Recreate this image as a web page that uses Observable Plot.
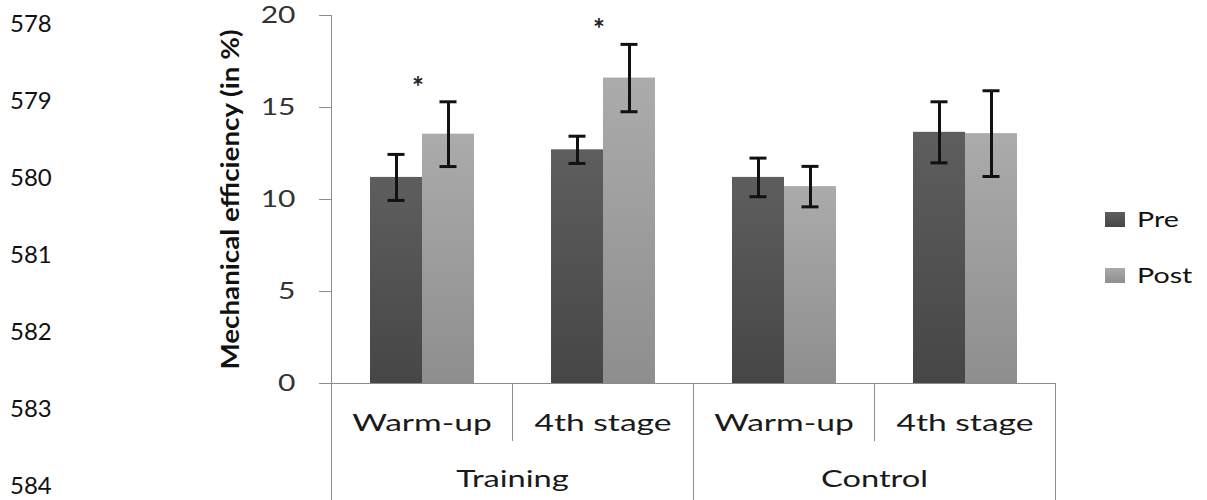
<!DOCTYPE html>
<html><head><meta charset="utf-8">
<script src="https://cdn.jsdelivr.net/npm/d3@7"></script>
<script src="https://cdn.jsdelivr.net/npm/@observablehq/plot@0.6"></script>
<style>
body{margin:0;background:#fff;}
#wrap{position:relative;width:1207px;height:500px;overflow:hidden;font-family:Lato,sans-serif;}
.ln{position:absolute;left:10px;font-size:24px;line-height:24px;color:#111;}
.lg{position:absolute;left:1105px;height:22px;display:flex;align-items:center;}
.lg .sw{width:20px;height:15px;margin-right:12px;}
.lg .tx{font-size:22px;line-height:22px;color:#111;transform:scaleX(1.3);transform-origin:left center;}
</style></head><body><div id="wrap"></div>
<script>
// ---- data ----
const groups = ["Training", "Training", "Control", "Control"];
const stages = ["Warm-up", "4th stage", "Warm-up", "4th stage"];
const phases = ["Pre", "Post"];
const preMean = [11.2, 12.7, 11.2, 13.65];
const preErr  = [1.25, 0.74, 1.05, 1.66];
const postMean = [13.55, 16.6, 10.7, 13.58];
const postErr  = [1.76, 1.83, 1.1, 2.33];
const significance = ["*", "*", "", ""];
const categories = ["Training", "Control"];
const yTicks = [0, 5, 10, 15, 20];
const yTitle = "Mechanical efficiency (in %)";
const lineNumbers = ["578", "579", "580", "581", "582", "583", "584"];
const phaseColors = {Pre: ["#5e5e5e", "#464646"], Post: ["#ababab", "#8e8e8e"]};

// ---- table ----
const keys = groups.map((g, i) => `${g}|${stages[i]}`);
const rows = [];
keys.forEach((k, i) => {
  rows.push({key: k, phase: "Pre", mean: preMean[i], lo: preMean[i] - preErr[i], hi: preMean[i] + preErr[i], sig: ""});
  rows.push({key: k, phase: "Post", mean: postMean[i], lo: postMean[i] - postErr[i], hi: postMean[i] + postErr[i], sig: significance[i]});
});
const stars = rows.filter(d => d.phase === "Post" && d.sig);
const catLabels = categories.map(c => ({cat: c, key: keys[groups.indexOf(c)]}));

const gray = "#8c8c8c";
const wrap = document.getElementById("wrap");

const svg = Plot.plot({
  width: 1207, height: 500,
  marginLeft: 331, marginRight: 152, marginTop: 15, marginBottom: 117,
  style: {fontFamily: "Lato, sans-serif", fontSize: "24px", background: "transparent", color: "#222"},
  fx: {domain: keys, padding: 0},
  x: {domain: phases, paddingInner: 0, paddingOuter: 0.74, axis: null},
  y: {domain: [0, 20]},
  color: {domain: phases, range: phases.map(p => `url(#grad${p})`)},
  marks: [
    Plot.barY(rows, {fx: "key", x: "phase", y: "mean", fill: "phase"}),
    Plot.ruleY([0], {stroke: gray}),
    Plot.frame({anchor: "left", fx: () => keys[0], insetBottom: -117, stroke: gray}),
    Plot.frame({anchor: "left", fx: () => keys[2], insetTop: 368, insetBottom: -117, stroke: gray}),
    Plot.frame({anchor: "right", fx: () => keys[3], insetTop: 368, insetBottom: -117, stroke: gray}),
    Plot.frame({anchor: "left", fx: () => keys[1], insetTop: 368, insetBottom: -57, stroke: gray}),
    Plot.frame({anchor: "left", fx: () => keys[3], insetTop: 368, insetBottom: -57, stroke: gray}),
    Plot.ruleX(rows, {fx: "key", x: "phase", y1: "lo", y2: "hi", stroke: "#111", strokeWidth: 3}),
    Plot.tickY(rows, {fx: "key", x: "phase", y: "hi", insetLeft: 17.5, insetRight: 17.5, stroke: "#111", strokeWidth: 3}),
    Plot.tickY(rows, {fx: "key", x: "phase", y: "lo", insetLeft: 17.5, insetRight: 17.5, stroke: "#111", strokeWidth: 3}),
    Plot.text(stars, {fx: "key", y: "hi", text: "sig", dx: -4, dy: -14, fontSize: 28, fontWeight: "bold", fill: "#222"}),
    Plot.axisY({ticks: yTicks, tickSize: 12, tickPadding: 24, label: null, stroke: gray, fill: "#333", fontSize: 24}),
    Plot.axisFx({anchor: "bottom", tickSize: 0, tickPadding: 30, label: null, tickFormat: k => k.split("|")[1], fontSize: 24, fill: "#1a1a1a"}),
    Plot.text(catLabels, {fx: "key", text: "cat", frameAnchor: "bottom-right", textAnchor: "middle", lineAnchor: "middle", dy: 96, fontSize: 24, fill: "#1a1a1a"}),
    Plot.text([yTitle], {fx: () => keys[0], frameAnchor: "left", textAnchor: "middle", lineAnchor: "middle", dx: -100, rotate: -90, fontWeight: "bold", fontSize: 24, fill: "#111"})
  ]
});

// gradients
const defs = d3.select(svg).insert("defs", ":first-child");
phases.forEach(p => {
  const g = defs.append("linearGradient").attr("id", `grad${p}`).attr("x1", 0).attr("y1", 0).attr("x2", 0).attr("y2", 1);
  g.append("stop").attr("offset", "0%").attr("stop-color", phaseColors[p][0]);
  g.append("stop").attr("offset", "100%").attr("stop-color", phaseColors[p][1]);
});
wrap.appendChild(svg);

// horizontal stretch of texts (the reference is horizontally stretched)
function stretchText(test, k) {
  d3.select(svg).selectAll("text").each(function () {
    if (!test(this.textContent)) return;
    const w = this.getComputedTextLength();
    this.setAttribute("textLength", w * k);
    this.setAttribute("lengthAdjust", "spacingAndGlyphs");
  });
}
stretchText(t => /^\d+$/.test(t), 1.25);
stretchText(t => stages.includes(t), 1.4);
stretchText(t => categories.includes(t), 1.36);
d3.select(svg).selectAll("text").filter(function () { return this.textContent === yTitle; })
  .attr("textLength", 340).attr("lengthAdjust", "spacingAndGlyphs");

// line numbers
lineNumbers.forEach((n, i) => {
  const d = document.createElement("div");
  d.className = "ln"; d.textContent = n;
  d.style.top = (11 + 77 * i) + "px";
  wrap.appendChild(d);
});
// legend
phases.forEach((p, i) => {
  const d = document.createElement("div");
  d.className = "lg";
  d.style.top = (208 + 56 * i) + "px";
  const s = document.createElement("div");
  s.className = "sw";
  s.style.background = `linear-gradient(${phaseColors[p][0]}, ${phaseColors[p][1]})`;
  const t = document.createElement("div");
  t.className = "tx"; t.textContent = p;
  d.appendChild(s); d.appendChild(t);
  wrap.appendChild(d);
});
</script></body></html>
